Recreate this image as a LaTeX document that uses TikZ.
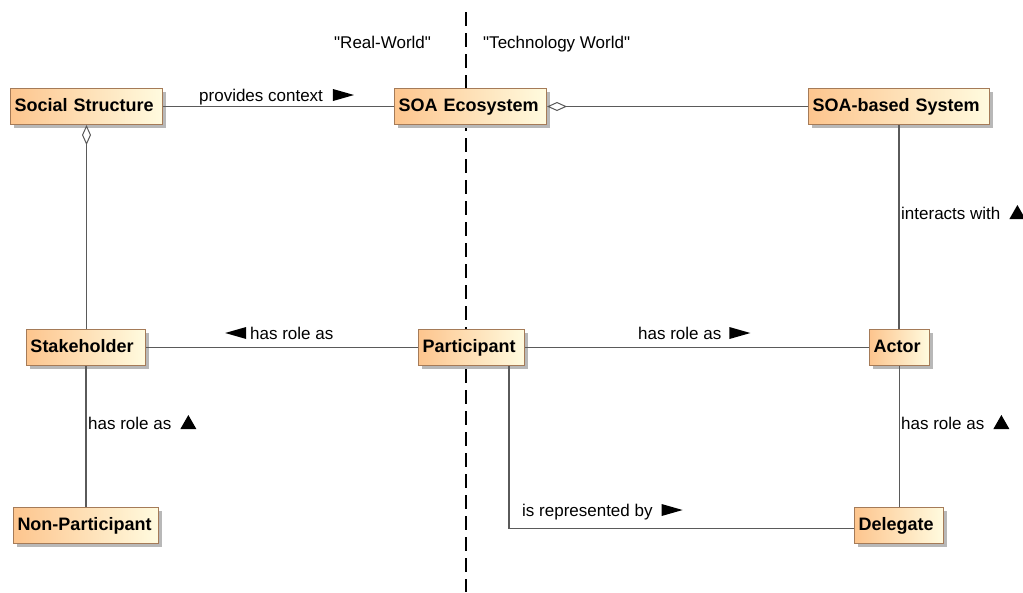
\documentclass[tikz,border=0pt]{standalone}
\usepackage{fontspec}
\setmainfont{Liberation Sans}
\usetikzlibrary{arrows.meta,shadows}
\definecolor{boxL}{HTML}{FDC58E}
\definecolor{boxR}{HTML}{FFFBDF}
\definecolor{boxB}{HTML}{A57B58}
\definecolor{lineC}{HTML}{5A5A5A}
\newcommand\rtri{\tikz[x=1pt,y=1pt,baseline=0pt]\fill (0,0)--(21,6)--(0,12)--cycle;}
\newcommand\ltri{\tikz[x=1pt,y=1pt,baseline=0pt]\fill (21,0)--(0,6)--(21,12)--cycle;}
\newcommand\utri{\tikz[x=1pt,y=1pt,baseline=0pt]\fill (0,0)--(8,14)--(16,0)--cycle;}
\newcommand\qt{\XeTeXglyph\XeTeXcharglyph"22\relax}
\tikzset{
  cls/.style={draw=boxB, line width=1pt, left color=boxL, right color=boxR,
    minimum height=36pt, inner xsep=4pt, inner ysep=0pt, anchor=north west,
    text height=14pt, text depth=5pt,
    font=\fontsize{18}{20}\selectfont\bfseries, align=left,
    general shadow={fill=black!28, shadow xshift=3pt, shadow yshift=-3pt}},
  conn/.style={draw=lineC, line width=1.2pt},
  lbl/.style={anchor=base west, inner sep=0pt, font=\fontsize{17}{20}\selectfont},
  agg/.style={{Diamond[open,length=20pt,width=9pt,line width=1pt]}-},
}
\begin{document}
\begin{tikzpicture}[x=1pt,y=-1pt]
\useasboundingbox[fill=white] (0,0) rectangle (1023,592);
% dashed divider
\coordinate (dtop) at (466,12);
\coordinate (dbot) at (466,592);
\draw[black, line width=1.3pt, dash pattern=on 14pt off 7pt] (dtop) -- (dbot);
\node[lbl] (rw) at (334,48) {\qt Real-World\qt};
\node[lbl] (tw) at (483,48) {\qt Technology World\qt};
% classes
\node[cls, text width=144pt] (ss)  at (10,88)  {Social Structure};
\node[cls, text width=144pt] (eco) at (394,88) {SOA Ecosystem};
\node[cls, text width=173pt] (sbs) at (808,88) {SOA-based System};
\node[cls, text width=111pt] (sh)  at (26,329) {Stakeholder};
\node[cls, text width=98pt]  (pa)  at (418,329) {Participant};
\node[cls, text width=52pt]  (ac)  at (869,329) {Actor};
\node[cls, text width=137pt] (np)  at (13,507) {Non-Participant};
\node[cls, text width=81pt]  (de)  at (854,507) {Delegate};
% connectors
\draw[conn] (ss.east) -- (ss.east -| eco.west);
\draw[conn, agg] (eco.east) -- (eco.east -| sbs.west);
\draw[conn, agg] (ss.south) -- (ss.south |- sh.north);
\draw[conn] (sbs.south) -- (sbs.south |- ac.north);
\draw[conn] (sh.east) -- (sh.east -| pa.west);
\draw[conn] (pa.east) -- (pa.east -| ac.west);
\draw[conn] (sh.south) -- (sh.south |- np.north);
\draw[conn] (ac.south) -- (ac.south |- de.north);
\draw[conn] ([xshift=-16pt]pa.south east) |- ([yshift=-3pt]de.west);
% labels
\node[lbl] (l1) at (199,101) {provides context\hspace{10pt}\rtri};
\node[lbl] (l2) at (225,339) {\ltri\hspace{4pt}has role as};
\node[lbl] (l3) at (638,339) {has role as\hspace{8pt}\rtri};
\node[lbl] (l4) at (901,219) {interacts with\hspace{9pt}\utri};
\node[lbl] (l5) at (88,429) {has role as\hspace{9pt}\utri};
\node[lbl] (l6) at (901,429) {has role as\hspace{9pt}\utri};
\node[lbl] (l7) at (522,516) {is represented by\hspace{9pt}\rtri};
\end{tikzpicture}
\end{document}
